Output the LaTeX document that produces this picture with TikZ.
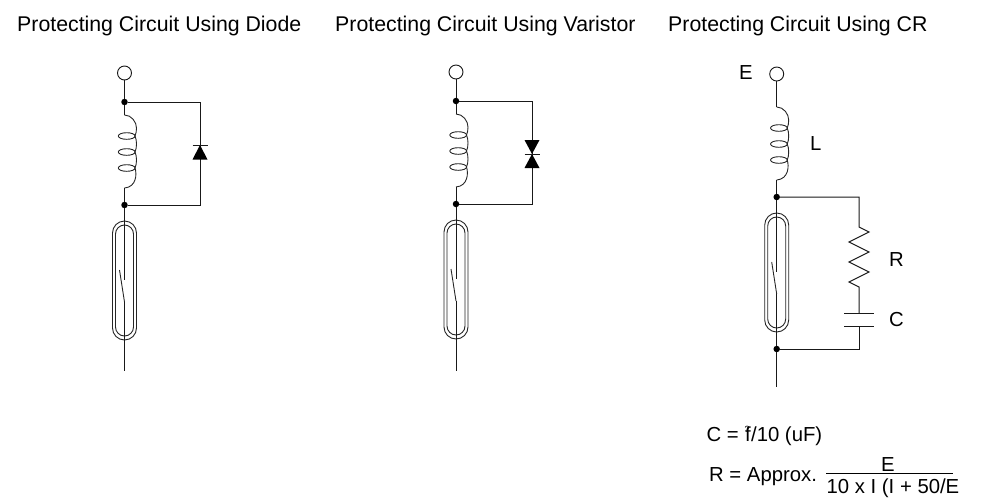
\documentclass[tikz,border=0pt]{standalone}
\usepackage{fontspec}
\setmainfont{Liberation Sans}
\tikzset{
  x=1pt,y=-1pt,
  wire/.style={draw=black!90,line width=1pt},
  thinwire/.style={draw=black!85,line width=0.9pt},
  junction/.style={circle,fill=black,inner sep=0pt,minimum size=6.5pt},
  terminal/.style={circle,draw=black!90,line width=0.9pt,fill=white,inner sep=0pt,minimum size=14pt},
  lbl/.style={inner sep=0pt,anchor=base west,font=\fontsize{20.3}{22}\selectfont},
  titlelbl/.style={lbl,font=\fontsize{21.3}{22}\selectfont},
  solid tri/.style={fill=black,draw=none},
  pics/coil/.style={code={
    \coordinate (-top) at (0,0);
    \coordinate (-bottom) at (0,73);
    \draw[thinwire] (0,0) .. controls (7,0) and (12,7) .. (12,13) .. controls (12,16) and (11.5,19) .. (10.5,21);
    \draw[thinwire] (10.5,21) .. controls (12.5,25) and (12.5,33) .. (10.5,37);
    \draw[thinwire] (10.5,37) .. controls (12.5,41) and (12.5,49) .. (10.5,53);
    \draw[thinwire] (10.5,53) .. controls (12.5,59) and (12,72) .. (0,73);
    \foreach \yy in {21,37,53} \draw[thinwire] (2.2,\yy) ellipse [x radius=8.4,y radius=3.3];
  }},
  pics/reed/.style={code={
    \coordinate (-contact) at (0,59);
    \coordinate (-out) at (0,81);
    \draw[thinwire,rounded corners=12pt] (-12,0) rectangle (12,119);
    \draw[thinwire,rounded corners=9pt] (-9,4) rectangle (9,115);
    \draw[thinwire] (-5,49) -- (0,81);
  }},
}
\begin{document}
\begin{tikzpicture}
\useasboundingbox (0,0) rectangle (994,499);
% --- Diode circuit
\node[titlelbl] (t1) at (17,31) {Protecting Circuit Using Diode};
\node[terminal] (a1) at (124.5,73) {};
\node[junction] (a2) at (124.5,102) {};
\node[junction] (a3) at (124.5,205) {};
\coordinate (a4) at (200,102);
\coordinate (a5) at (200,205);
\coordinate (a6) at (124.5,371);
\pic (ac) at (124.5,115) {coil};
\pic (ar) at (124.5,221) {reed};
\coordinate (ad1) at (200,145);
\draw[wire] (a1) -- (a2) -- (ac-top);
\draw[wire] (ac-bottom) -- (a3) -- (ar-contact);
\draw[wire] (ar-out) -- (a6);
\draw[wire] (a2) -- (a4) -- (a5) -- (a3);
\fill[solid tri] (ad1) -- ++(-7.5,14.5) -- ++(15,0) -- cycle;
\draw[wire] (192.5,145) -- (207.5,145);
% --- Varistor circuit
\node[titlelbl] (t2) at (335,31.5) {Protecting Circuit Using Varistor};
\node[terminal] (b1) at (456,72) {};
\node[junction] (b2) at (456,101) {};
\node[junction] (b3) at (456,204) {};
\coordinate (b4) at (532,101);
\coordinate (b5) at (532,204);
\coordinate (b6) at (456,371);
\pic (bc) at (456,114) {coil};
\pic (br) at (456,220) {reed};
\coordinate (bd1) at (532,154);
\draw[wire] (b1) -- (b2) -- (bc-top);
\draw[wire] (bc-bottom) -- (b3) -- (br-contact);
\draw[wire] (br-out) -- (b6);
\draw[wire] (b2) -- (b4) -- (b5) -- (b3);
\fill[solid tri] (bd1) -- ++(-7.5,-14) -- ++(15,0) -- cycle;
\fill[solid tri] (bd1) -- ++(-7.5,14) -- ++(15,0) -- cycle;
\draw[wire] (524.5,154) -- (539.5,154);
% --- CR circuit
\node[titlelbl] (t3) at (668,31.5) {Protecting Circuit Using CR};
\node[lbl] (lE) at (739,79) {E};
\node[lbl] (lL) at (810,150) {L};
\node[lbl] (lR) at (889,266) {R};
\node[lbl] (lC) at (889,326) {C};
\node[terminal] (c1) at (776.7,74) {};
\node[junction] (c2) at (776.7,197) {};
\node[junction] (c3) at (776.7,349) {};
\coordinate (c4) at (859,197);
\coordinate (c5) at (859,349);
\coordinate (c6) at (776.7,387);
\pic (cc) at (776.7,107) {coil};
\pic (cr) at (776.7,213) {reed};
\coordinate (r1) at (859,227);
\coordinate (r2) at (859,287);
\coordinate (k1) at (859,313);
\coordinate (k2) at (859,326);
\draw[wire] (c1) -- (cc-top);
\draw[wire] (cc-bottom) -- (c2) -- (cr-contact);
\draw[wire] (cr-out) -- (c3) -- (c6);
\draw[wire] (c2) -- (c4) -- (r1)
   -- ++(10,5) -- ++(-20,10) -- ++(20,10) -- ++(-20,10) -- ++(20,10) -- ++(-20,10) -- (r2) -- (k1);
\draw[wire] (844,313) -- (874,313);
\draw[wire] (844,326) -- (874,326);
\draw[wire] (k2) -- (c5) -- (c3);
% --- Formulae
\node[lbl] (f1) at (706.5,441.5) {C = \rlap{\raisebox{9pt}{\fontsize{9}{9}\selectfont ?}}\hspace{0.5pt}f\hspace{0.5pt}/10 (uF)};
\node[lbl] (f2) at (709,481) {R = Approx.};
\node[lbl,anchor=base] (fn) at (888,471) {E};
\node[lbl] (fd) at (826.5,493) {10 x I (I + 50/E};
\coordinate (fa) at (826,473);
\coordinate (fb) at (953,473);
\draw[line width=0.9pt] (fa) -- (fb);
\end{tikzpicture}
\end{document}
